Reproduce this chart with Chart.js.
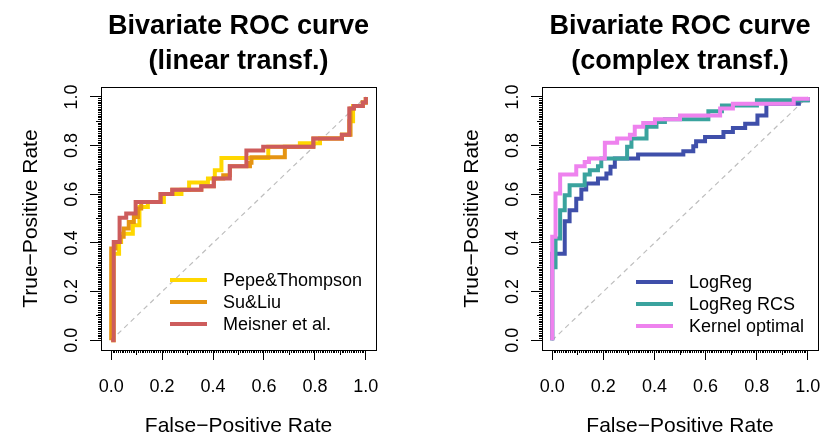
<!DOCTYPE html>
<html>
<head>
<meta charset="utf-8">
<script src="https://cdn.jsdelivr.net/npm/chart.js@4.4.1/dist/chart.umd.min.js"></script>
<style>
html, body { margin: 0; padding: 0; background: #fff; overflow: hidden; }
#wrap { position: relative; width: 823px; height: 439px; }
#wrap canvas { position: absolute; top: 0; }
.legend { position: absolute; font: 18px "Liberation Sans", Arial, sans-serif; color: #000; }
.legend div { position: relative; height: 22px; line-height: 22px; padding-left: 53px; white-space: nowrap; }
.legend span { position: absolute; left: 0; top: 9px; width: 37px; height: 4px; }
</style>
</head>
<body>
<div id="wrap">
  <canvas id="rocLinear" width="411" height="439" style="left:0"></canvas>
  <canvas id="rocComplex" width="412" height="439" style="left:411px"></canvas>
  <div class="legend" id="legLinear" style="left:170px;top:269px"></div>
  <div class="legend" id="legComplex" style="left:636px;top:271px"></div>
</div>
<script>
// axis ticks
const majorTicks = [0, 0.2, 0.4, 0.6, 0.8, 1.0];
const midTicks   = [0.1, 0.3, 0.5, 0.7, 0.9];
const rugStep    = 1 / 140;

// left panel: linear transformation
const pepeFpr = [0, 0.01, 0.031, 0.039, 0.085, 0.111, 0.144, 0.207, 0.276, 0.306, 0.38, 0.407, 0.433, 0.617, 0.741, 0.82, 0.906, 0.935, 0.95, 0.988, 1.0];
const pepeTpr = [0, 0.356, 0.404, 0.438, 0.473, 0.548, 0.568, 0.601, 0.619, 0.648, 0.665, 0.699, 0.749, 0.795, 0.81, 0.829, 0.845, 0.90, 0.963, 0.977, 1.0];

const suFpr = [0, 0, 0.017, 0.036, 0.049, 0.069, 0.089, 0.105, 0.118, 0.194, 0.24, 0.354, 0.403, 0.44, 0.466, 0.545, 0.551, 0.682, 0.794, 0.906, 0.94, 0.953, 0.988, 1.0];
const suTpr = [0, 0.377, 0.404, 0.425, 0.459, 0.486, 0.507, 0.541, 0.568, 0.601, 0.619, 0.633, 0.665, 0.678, 0.715, 0.73, 0.752, 0.795, 0.829, 0.845, 0.952, 0.963, 0.977, 1.0];

const meisFpr = [0, 0.01, 0.033, 0.059, 0.096, 0.194, 0.24, 0.354, 0.403, 0.466, 0.531, 0.597, 0.794, 0.906, 0.935, 0.953, 0.988, 1.0];
const meisTpr = [0, 0.404, 0.503, 0.521, 0.568, 0.601, 0.619, 0.633, 0.665, 0.715, 0.78, 0.795, 0.829, 0.845, 0.952, 0.963, 0.977, 1.0];

// right panel: complex transformation
const logFpr = [0, 0, 0.049, 0.068, 0.094, 0.114, 0.133, 0.179, 0.212, 0.228, 0.245, 0.336, 0.513, 0.552, 0.563, 0.598, 0.67, 0.707, 0.755, 0.803, 0.838, 0.965, 1.0];
const logTpr = [0, 0.356, 0.489, 0.534, 0.582, 0.62, 0.644, 0.665, 0.685, 0.713, 0.747, 0.763, 0.777, 0.797, 0.818, 0.835, 0.856, 0.872, 0.89, 0.924, 0.972, 0.986, 1.0];

const rcsFpr = [0, 0, 0.013, 0.031, 0.049, 0.068, 0.127, 0.147, 0.179, 0.192, 0.293, 0.31, 0.369, 0.408, 0.441, 0.611, 0.664, 0.801, 1.0];
const rcsTpr = [0, 0.30, 0.418, 0.534, 0.596, 0.637, 0.681, 0.699, 0.715, 0.747, 0.795, 0.829, 0.877, 0.897, 0.908, 0.941, 0.965, 0.986, 1.0];

const kernFpr = [0, 0, 0.013, 0.031, 0.094, 0.127, 0.144, 0.206, 0.254, 0.304, 0.323, 0.356, 0.402, 0.5, 0.657, 0.707, 0.945, 1.0];
const kernTpr = [0, 0.425, 0.603, 0.681, 0.715, 0.733, 0.747, 0.812, 0.829, 0.845, 0.877, 0.893, 0.908, 0.924, 0.952, 0.972, 0.993, 1.0];

const diagX = [0, 1];
const diagY = [0, 1];

const FONT = '"Liberation Sans", Arial, sans-serif';
Chart.defaults.font.family = FONT;
Chart.defaults.color = '#000';

const pts = (xs, ys) => xs.map((x, i) => ({ x, y: ys[i] }));
const rugTicks = () => Array.from({ length: 141 }, (_, i) => ({ value: i * rugStep }));
const noPad = s => { s.paddingLeft = 0; s.paddingRight = 0; s.paddingTop = 0; s.paddingBottom = 0; };

const frame = {
    id: 'frame',
    afterDraw(chart) {
        const { ctx, chartArea: a } = chart;
        ctx.save();
        ctx.strokeStyle = '#000';
        ctx.lineWidth = 1;
        ctx.strokeRect(Math.round(a.left) + 0.5, Math.round(a.top) + 0.5,
                       Math.round(a.right - a.left), Math.round(a.bottom - a.top));
        ctx.restore();
    }
};

function minorAxis(axis, ticks, len) {
    const pos = axis === 'x' ? { y: -0.04 } : { x: -0.04 };
    return {
        type: 'linear', axis, min: -0.04, max: 1.04, position: pos,
        afterBuildTicks: s => { s.ticks = ticks(); },
        afterFit: noPad,
        grid: { drawOnChartArea: false, tickLength: len, tickColor: '#000', tickWidth: 1 },
        border: { display: false },
        ticks: { display: false }
    };
}

function rocChart(id, titleLines, series, padLeft, padRight) {
    const datasets = [{
        data: pts(diagX, diagY), borderColor: '#bebebe', borderWidth: 1.2,
        borderDash: [5, 4], pointRadius: 0, fill: false, order: 10
    }].concat(series.map((s, i) => ({
        label: s.label, data: pts(s.fpr, s.tpr), borderColor: s.color,
        borderWidth: 4, pointRadius: 0, stepped: 'before', fill: false,
        order: series.length - i
    })));

    return new Chart(document.getElementById(id), {
        type: 'line',
        data: { datasets },
        options: {
            responsive: false, animation: false, events: [],
            layout: { padding: { left: padLeft, right: padRight, top: 0, bottom: 0 } },
            plugins: {
                legend: { display: false }, tooltip: { enabled: false },
                title: {
                    display: true, text: titleLines, fullSize: false, color: '#000',
                    font: { family: FONT, size: 27, weight: 'bold', lineHeight: 1.3 },
                    padding: { top: 9, bottom: 8 }
                }
            },
            scales: {
                x: {
                    type: 'linear', min: -0.04, max: 1.04, position: 'bottom',
                    afterBuildTicks: s => { s.ticks = majorTicks.map(v => ({ value: v })); },
                    afterFit: s => { s.height = 89; noPad(s); },
                    grid: { drawOnChartArea: false, tickLength: 10, tickColor: '#000', tickWidth: 1 },
                    border: { display: false },
                    ticks: { padding: 16, color: '#000', autoSkip: false, maxRotation: 0,
                             font: { family: FONT, size: 18 }, callback: v => v.toFixed(1) },
                    title: { display: true, text: 'False\u2212Positive Rate', color: '#000',
                             font: { family: FONT, size: 21 }, padding: { top: 0, bottom: 0 } }
                },
                y: {
                    type: 'linear', min: -0.04, max: 1.04, position: 'left',
                    afterBuildTicks: s => { s.ticks = majorTicks.map(v => ({ value: v })); },
                    afterFit: s => { s.width = 101; noPad(s); },
                    grid: { drawOnChartArea: false, tickLength: 11, tickColor: '#000', tickWidth: 1 },
                    border: { display: false },
                    ticks: { padding: 5, color: '#000', autoSkip: false, minRotation: 90, maxRotation: 90,
                             crossAlign: 'center', font: { family: FONT, size: 18 }, callback: v => v.toFixed(1) },
                    title: { display: true, text: 'True\u2212Positive Rate', color: '#000',
                             font: { family: FONT, size: 21 }, padding: { top: 19, bottom: 0 } }
                },
                xMid: minorAxis('x', () => midTicks.map(v => ({ value: v })), 5),
                xRug: minorAxis('x', rugTicks, 3),
                yMid: minorAxis('y', () => midTicks.map(v => ({ value: v })), 5),
                yRug: minorAxis('y', rugTicks, 3)
            }
        },
        plugins: [frame]
    });
}

function legend(id, series) {
    document.getElementById(id).innerHTML = series.map(s =>
        `<div><span style="background:${s.color}"></span>${s.label}</div>`).join('');
}

const linearSeries = [
    { label: 'Pepe&Thompson', fpr: pepeFpr, tpr: pepeTpr, color: '#FFD700' },
    { label: 'Su&Liu',        fpr: suFpr,   tpr: suTpr,   color: '#E59412' },
    { label: 'Meisner et al.', fpr: meisFpr, tpr: meisTpr, color: '#CD5C5C' }
];
const complexSeries = [
    { label: 'LogReg',         fpr: logFpr,  tpr: logTpr,  color: '#3F4FAA' },
    { label: 'LogReg RCS',     fpr: rcsFpr,  tpr: rcsTpr,  color: '#3AA39E' },
    { label: 'Kernel optimal', fpr: kernFpr, tpr: kernTpr, color: '#EE82EE' }
];

rocChart('rocLinear', ['Bivariate ROC curve', '(linear transf.)'], linearSeries, 0, 35);
rocChart('rocComplex', ['Bivariate ROC curve', '(complex transf.)'], complexSeries, 30, 5);
legend('legLinear', linearSeries);
legend('legComplex', complexSeries);
</script>
</body>
</html>
